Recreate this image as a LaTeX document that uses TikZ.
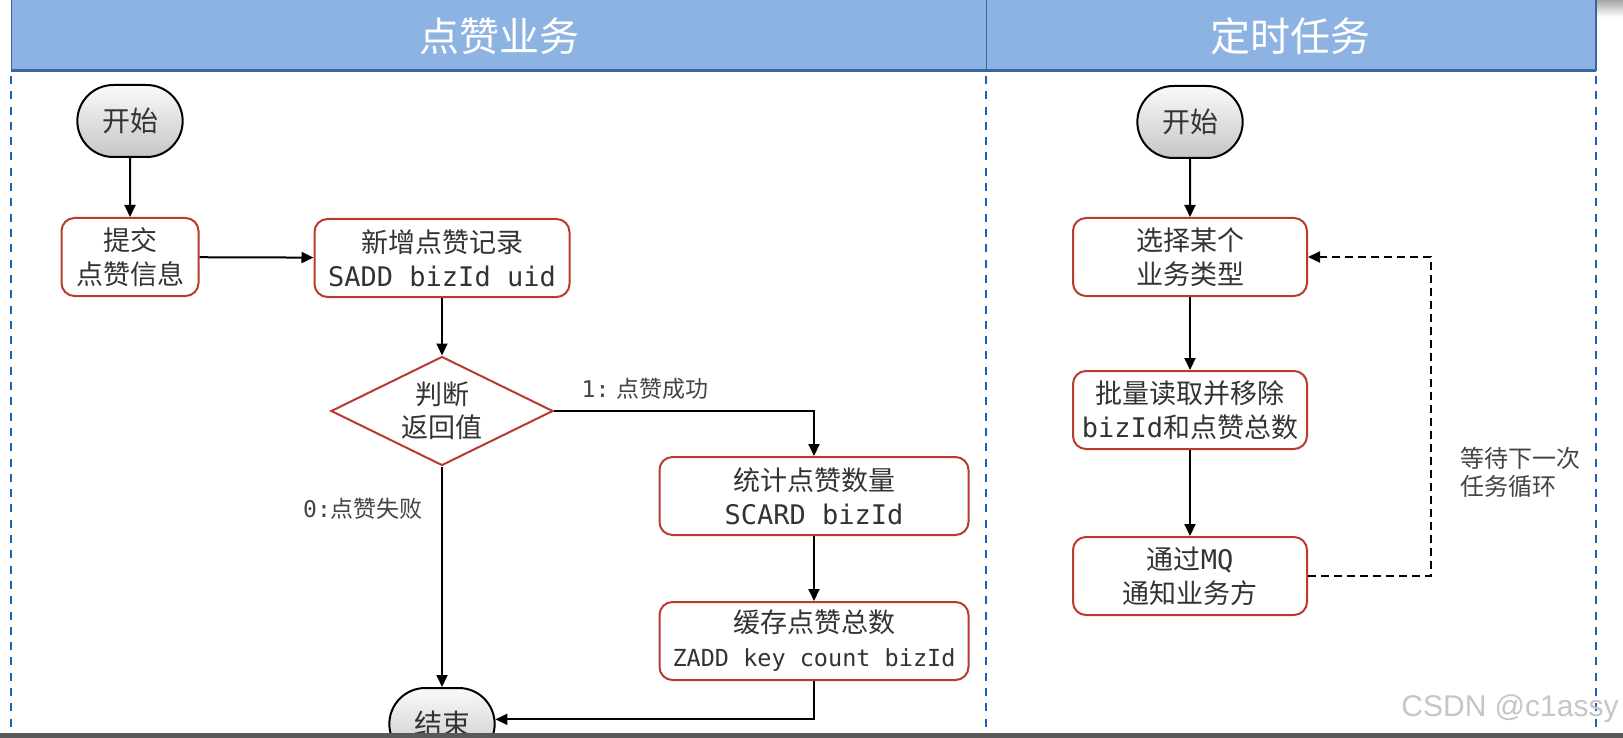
\documentclass[tikz,border=0pt]{standalone}
\usepackage{fontspec}
\setmainfont{Noto Sans CJK SC}
\newfontfamily\mono{DejaVu Sans Mono}
\newfontfamily\wmfont{Liberation Sans}
\usetikzlibrary{arrows.meta,shapes.geometric,shapes.misc,calc}
\definecolor{hdrfill}{HTML}{8DB3E2}
\definecolor{hdrline}{HTML}{3A65A0}
\definecolor{lanecol}{HTML}{1A62B8}
\definecolor{boxred}{HTML}{B83B2E}
\definecolor{txt}{HTML}{333333}
\definecolor{lbl}{HTML}{444444}
\tikzset{
  hdrtext/.style={text=white, font=\fontsize{40}{44}\selectfont},
  lane/.style={lanecol, line width=2pt, dash pattern=on 8pt off 7.3pt},
  term/.style={rounded rectangle, draw=black, line width=2pt, top color=white!96!gray, bottom color=gray!45, minimum width=112pt, minimum height=72pt, text=txt, font=\fontsize{28}{34}\selectfont},
  procbox/.style={rectangle, rounded corners=13pt, draw=boxred, line width=2pt, fill=white, minimum height=78pt, align=center, text=txt, font=\fontsize{27}{34}\selectfont, inner sep=0pt},
  decision/.style={diamond, aspect=2, draw=boxred, line width=2pt, fill=white, minimum width=222pt, minimum height=109pt, align=center, text=txt, font=\fontsize{27}{33}\selectfont, inner sep=0pt},
  arr/.style={draw=black, line width=2pt, -{Triangle[length=12pt,width=11pt]}},
  dasharr/.style={draw=black, line width=2pt, dash pattern=on 8pt off 5pt, -{Triangle[length=12pt,width=11pt]}},
  edgelbl/.style={text=lbl, font=\fontsize{23}{30}\selectfont, align=left},
}
\begin{document}
\begin{tikzpicture}[x=1pt,y=-1pt]
\useasboundingbox (0,0) rectangle (1623,738);
\clip (0,0) rectangle (1623,738);
\fill[white] (0,0) rectangle (1623,738);
% screen artifact top right
\shade[top color=gray!70, bottom color=white] (1597,0) rectangle (1623,17);
% header
\fill[hdrfill] (11.4,0) rectangle (1596,71);
\draw[hdrline, line width=1pt] (11.4,0) -- (11.4,71);
\draw[hdrline, line width=1pt] (986,0) -- (986,71);
\draw[hdrline, line width=1.5pt] (1596,0) -- (1596,71);
\draw[hdrline, line width=3pt] (11.4,71) -- (1596,71);
\node[hdrtext] (h1) at (499,36) {点赞业务};
\node[hdrtext] (h2) at (1290,36) {定时任务};
% lanes
\draw[lane] (11.4,76) -- (11.4,738);
\draw[lane] (986,76) -- (986,738);
\draw[lane] (1596,76) -- (1596,738);

% left lane
\node[term] (s1) at (130,121) {开始};
\node[procbox, minimum width=137pt] (submit) at (130,257) {提交\\点赞信息};
\node[procbox, minimum width=255pt] (add) at (442,258) {新增点赞记录\\{\mono SADD bizId uid}};
\node[decision] (dec) at (442,411) {判断\\返回值};
\node[procbox, minimum width=309pt] (cnt) at (814,496) {统计点赞数量\\{\mono SCARD bizId}};
\node[procbox, minimum width=309pt] (cache) at (814,641) {缓存点赞总数\\{\mono\fontsize{23.5}{30}\selectfont ZADD key count bizId}};
\node[term] (e1) at (442,724) {结束};

\draw[arr] (s1) -- (submit);
\draw[arr] (submit) -- (add);
\draw[arr] (add) -- (dec);
\draw[arr] (dec.east) -| (cnt.north);
\draw[arr] (cnt) -- (cache);
\draw[arr] (dec.south) -- (e1.north);
\draw[arr] (cache.south) |- (e1.5);
\node[edgelbl] (l1) at (645,389) {{\mono 1:} 点赞成功};
\node[edgelbl] (l0) at (363,509) {{\mono 0:}点赞失败};

% right lane
\node[term] (s2) at (1190,122) {开始};
\node[procbox, minimum width=234pt] (sel) at (1190,257) {选择某个\\业务类型};
\node[procbox, minimum width=234pt] (batch) at (1190,410) {批量读取并移除\\{\mono bizId}和点赞总数};
\node[procbox, minimum width=234pt] (mq) at (1190,576) {通过{\mono MQ}\\通知业务方};
\coordinate (lp) at (1431,400);
\draw[arr] (s2) -- (sel);
\draw[arr] (sel) -- (batch);
\draw[arr] (batch) -- (mq);
\draw[dasharr] (mq.east) -- (mq.east -| lp) -- (sel.east -| lp) -- (sel.east);
\node[edgelbl, anchor=west, font=\fontsize{24}{28}\selectfont] (wait) at (1457,472) {等待下一次\\任务循环};

% watermark and screen artifacts
\node[text=gray!45, font=\wmfont\fontsize{30}{30}\selectfont] (wm) at (1510,709) {CSDN @c1assy};
\fill[gray!70!black] (0,733) rectangle (1623,738);
\end{tikzpicture}
\end{document}
